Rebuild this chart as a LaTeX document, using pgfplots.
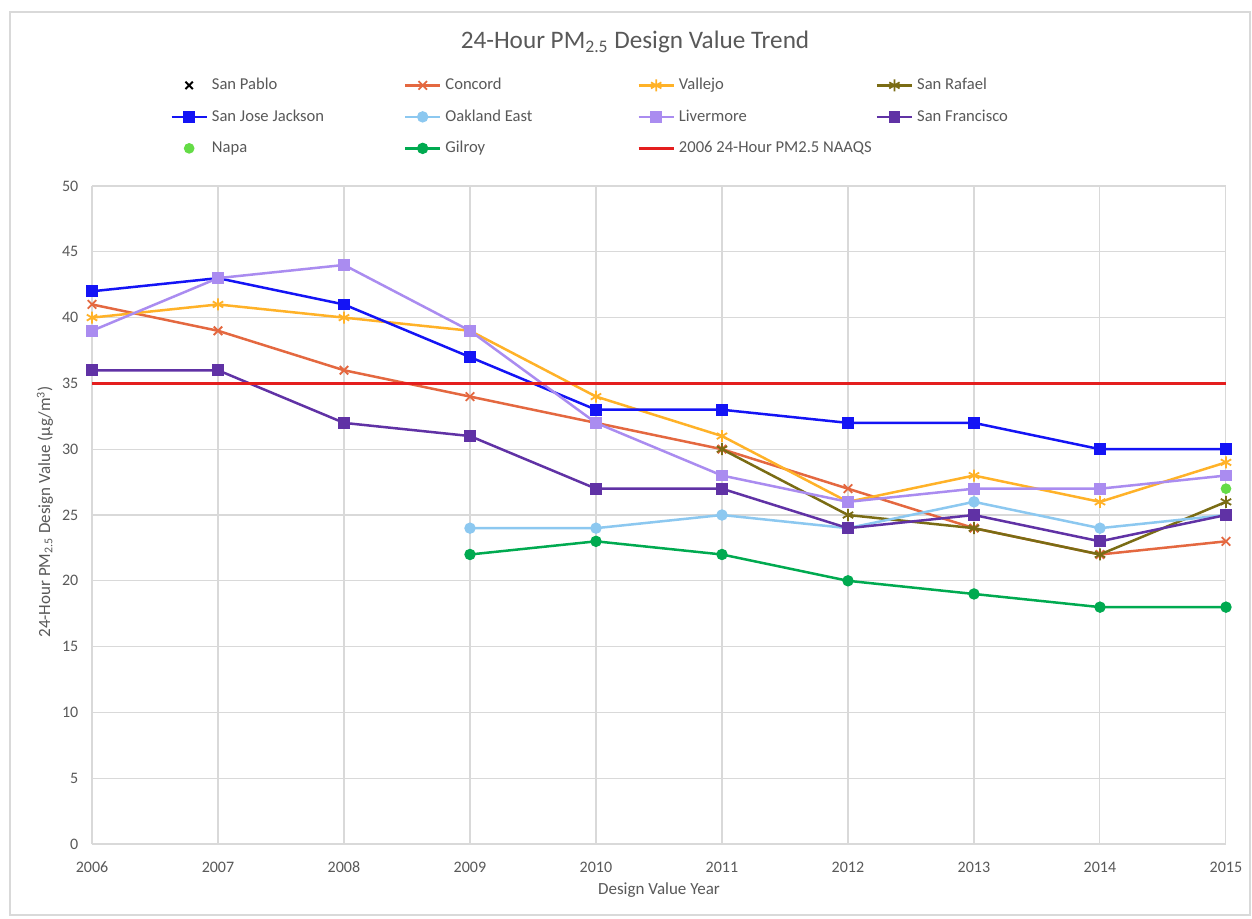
\documentclass[border=0pt]{standalone}
\usepackage{pgfplots}
\pgfplotsset{compat=1.18}
\usepackage{fontspec}
\setmainfont{Carlito}
\definecolor{txt}{RGB}{89,89,89}
\definecolor{gridc}{RGB}{217,217,217}
\definecolor{cConcord}{RGB}{228,104,64}
\definecolor{cVallejo}{RGB}{255,178,40}
\definecolor{cRafael}{RGB}{122,108,20}
\definecolor{cSJ}{RGB}{20,20,245}
\definecolor{cOak}{RGB}{140,200,240}
\definecolor{cLiv}{RGB}{170,140,240}
\definecolor{cSF}{RGB}{96,50,165}
\definecolor{cNapa}{RGB}{100,220,70}
\definecolor{cGil}{RGB}{0,170,80}
\definecolor{cStd}{RGB}{228,30,30}
\pgfplotsset{mylegend/.style={legend image code/.code={\draw[mark repeat=2,mark phase=2,##1] plot coordinates {(0pt,0pt) (8.75pt,0pt) (17.5pt,0pt)};}}}
\begin{document}
\begin{tikzpicture}
\path[use as bounding box] (0,0) rectangle (626pt,459pt);
\fill[white] (0,0) rectangle (626pt,459pt);
\draw[gridc, line width=0.7pt] (5pt,1.5pt) rectangle (625pt,453pt);
\node[text=txt, font=\fontsize{12.6}{14}\selectfont] at (317.5pt,438pt) {24-Hour PM\textsubscript{2.5} Design Value Trend};
\begin{axis}[
  at={(46pt,37pt)}, anchor=south west, scale only axis,
  width=567pt, height=329pt,
  xmin=2006, xmax=2015, ymin=0, ymax=50,
  xtick={2006,2007,...,2015}, ytick={0,5,...,50},
  clip=false,
  grid=major, major grid style={gridc, line width=0.6pt},
  axis line style={draw=none}, major tick length=0pt,
  /pgf/number format/assume math mode=true,
  tick label style={font=\fontsize{8}{9}\selectfont, color=txt},
  x tick label style={/pgf/number format/1000 sep=, yshift=-5.3pt, text height=5.4pt, text depth=0pt},
  y tick label style={xshift=-3.3pt},
  xlabel={Design Value Year},
  ylabel={24-Hour PM\textsubscript{2.5} Design Value (µg/m\textsuperscript{3})},
  label style={font=\fontsize{8.5}{10}\selectfont, color=txt},
  xlabel style={at={(axis description cs:0.5,0)}, anchor=center, yshift=-23pt},
  ylabel style={at={(axis description cs:0,0.505)}, anchor=center, yshift=23.5pt},
  legend columns=4, legend cell align=left,
  legend style={at={(0.0688,1.168)}, anchor=north west, draw=none, fill=none,
    inner sep=0pt, font=\fontsize{8.3}{9}\selectfont, text=txt, row sep=6.25pt,
    nodes={inner xsep=2pt, inner ysep=1pt, text height=6pt, text depth=1.5pt}},
  mylegend,
  every axis plot/.append style={line width=1.25pt},
]
\addlegendimage{only marks, mark=x, black, mark size=2.6pt, line width=1pt, mylegend}
\addlegendentry{\makebox[94pt][l]{San Pablo}}

\addplot[color=cConcord, mark=x, mark size=3pt, mark options={line width=0.9pt}] coordinates {
(2006,41) (2007,39) (2008,36) (2009,34) (2010,32) (2011,30) (2012,27) (2013,24) (2014,22) (2015,23)};
\addlegendentry{\makebox[94pt][l]{Concord}}

\addplot[color=cVallejo, mark=asterisk, mark size=3pt, mark options={line width=0.9pt}] coordinates {
(2006,40) (2007,41) (2008,40) (2009,39) (2010,34) (2011,31) (2012,26) (2013,28) (2014,26) (2015,29)};
\addlegendentry{\makebox[94pt][l]{Vallejo}}

\addplot[color=cRafael, mark=asterisk, mark size=3pt, mark options={line width=0.9pt}] coordinates {
(2011,30) (2012,25) (2013,24) (2014,22) (2015,26)};
\addlegendentry{San Rafael}

\addplot[color=cSJ, mark=square*, mark size=2.7pt, mark options={line width=0.5pt}] coordinates {
(2006,42) (2007,43) (2008,41) (2009,37) (2010,33) (2011,33) (2012,32) (2013,32) (2014,30) (2015,30)};
\addlegendentry{\makebox[94pt][l]{San Jose Jackson}}

\addplot[color=cOak, mark=*, mark size=2.6pt, mark options={line width=0.5pt}] coordinates {
(2009,24) (2010,24) (2011,25) (2012,24) (2013,26) (2014,24) (2015,25)};
\addlegendentry{\makebox[94pt][l]{Oakland East}}

\addplot[color=cLiv, mark=square*, mark size=2.7pt, mark options={line width=0.5pt}] coordinates {
(2006,39) (2007,43) (2008,44) (2009,39) (2010,32) (2011,28) (2012,26) (2013,27) (2014,27) (2015,28)};
\addlegendentry{\makebox[94pt][l]{Livermore}}

\addplot[color=cSF, mark=square*, mark size=2.7pt, mark options={line width=0.5pt}] coordinates {
(2006,36) (2007,36) (2008,32) (2009,31) (2010,27) (2011,27) (2012,24) (2013,25) (2014,23) (2015,25)};
\addlegendentry{San Francisco}

\addplot[only marks, color=cNapa, mark=*, mark size=2.4pt, mark options={line width=0.5pt}, mylegend] coordinates {
(2015,27)};
\addlegendentry{\makebox[94pt][l]{Napa}}

\addplot[color=cGil, mark=*, mark size=2.6pt, mark options={line width=0.5pt}] coordinates {
(2009,22) (2010,23) (2011,22) (2012,20) (2013,19) (2014,18) (2015,18)};
\addlegendentry{\makebox[94pt][l]{Gilroy}}

\addplot[color=cStd, no marks] coordinates {(2006,35) (2015,35)};
\addlegendentry{2006 24-Hour PM2.5 NAAQS}
\end{axis}
\end{tikzpicture}
\end{document}
